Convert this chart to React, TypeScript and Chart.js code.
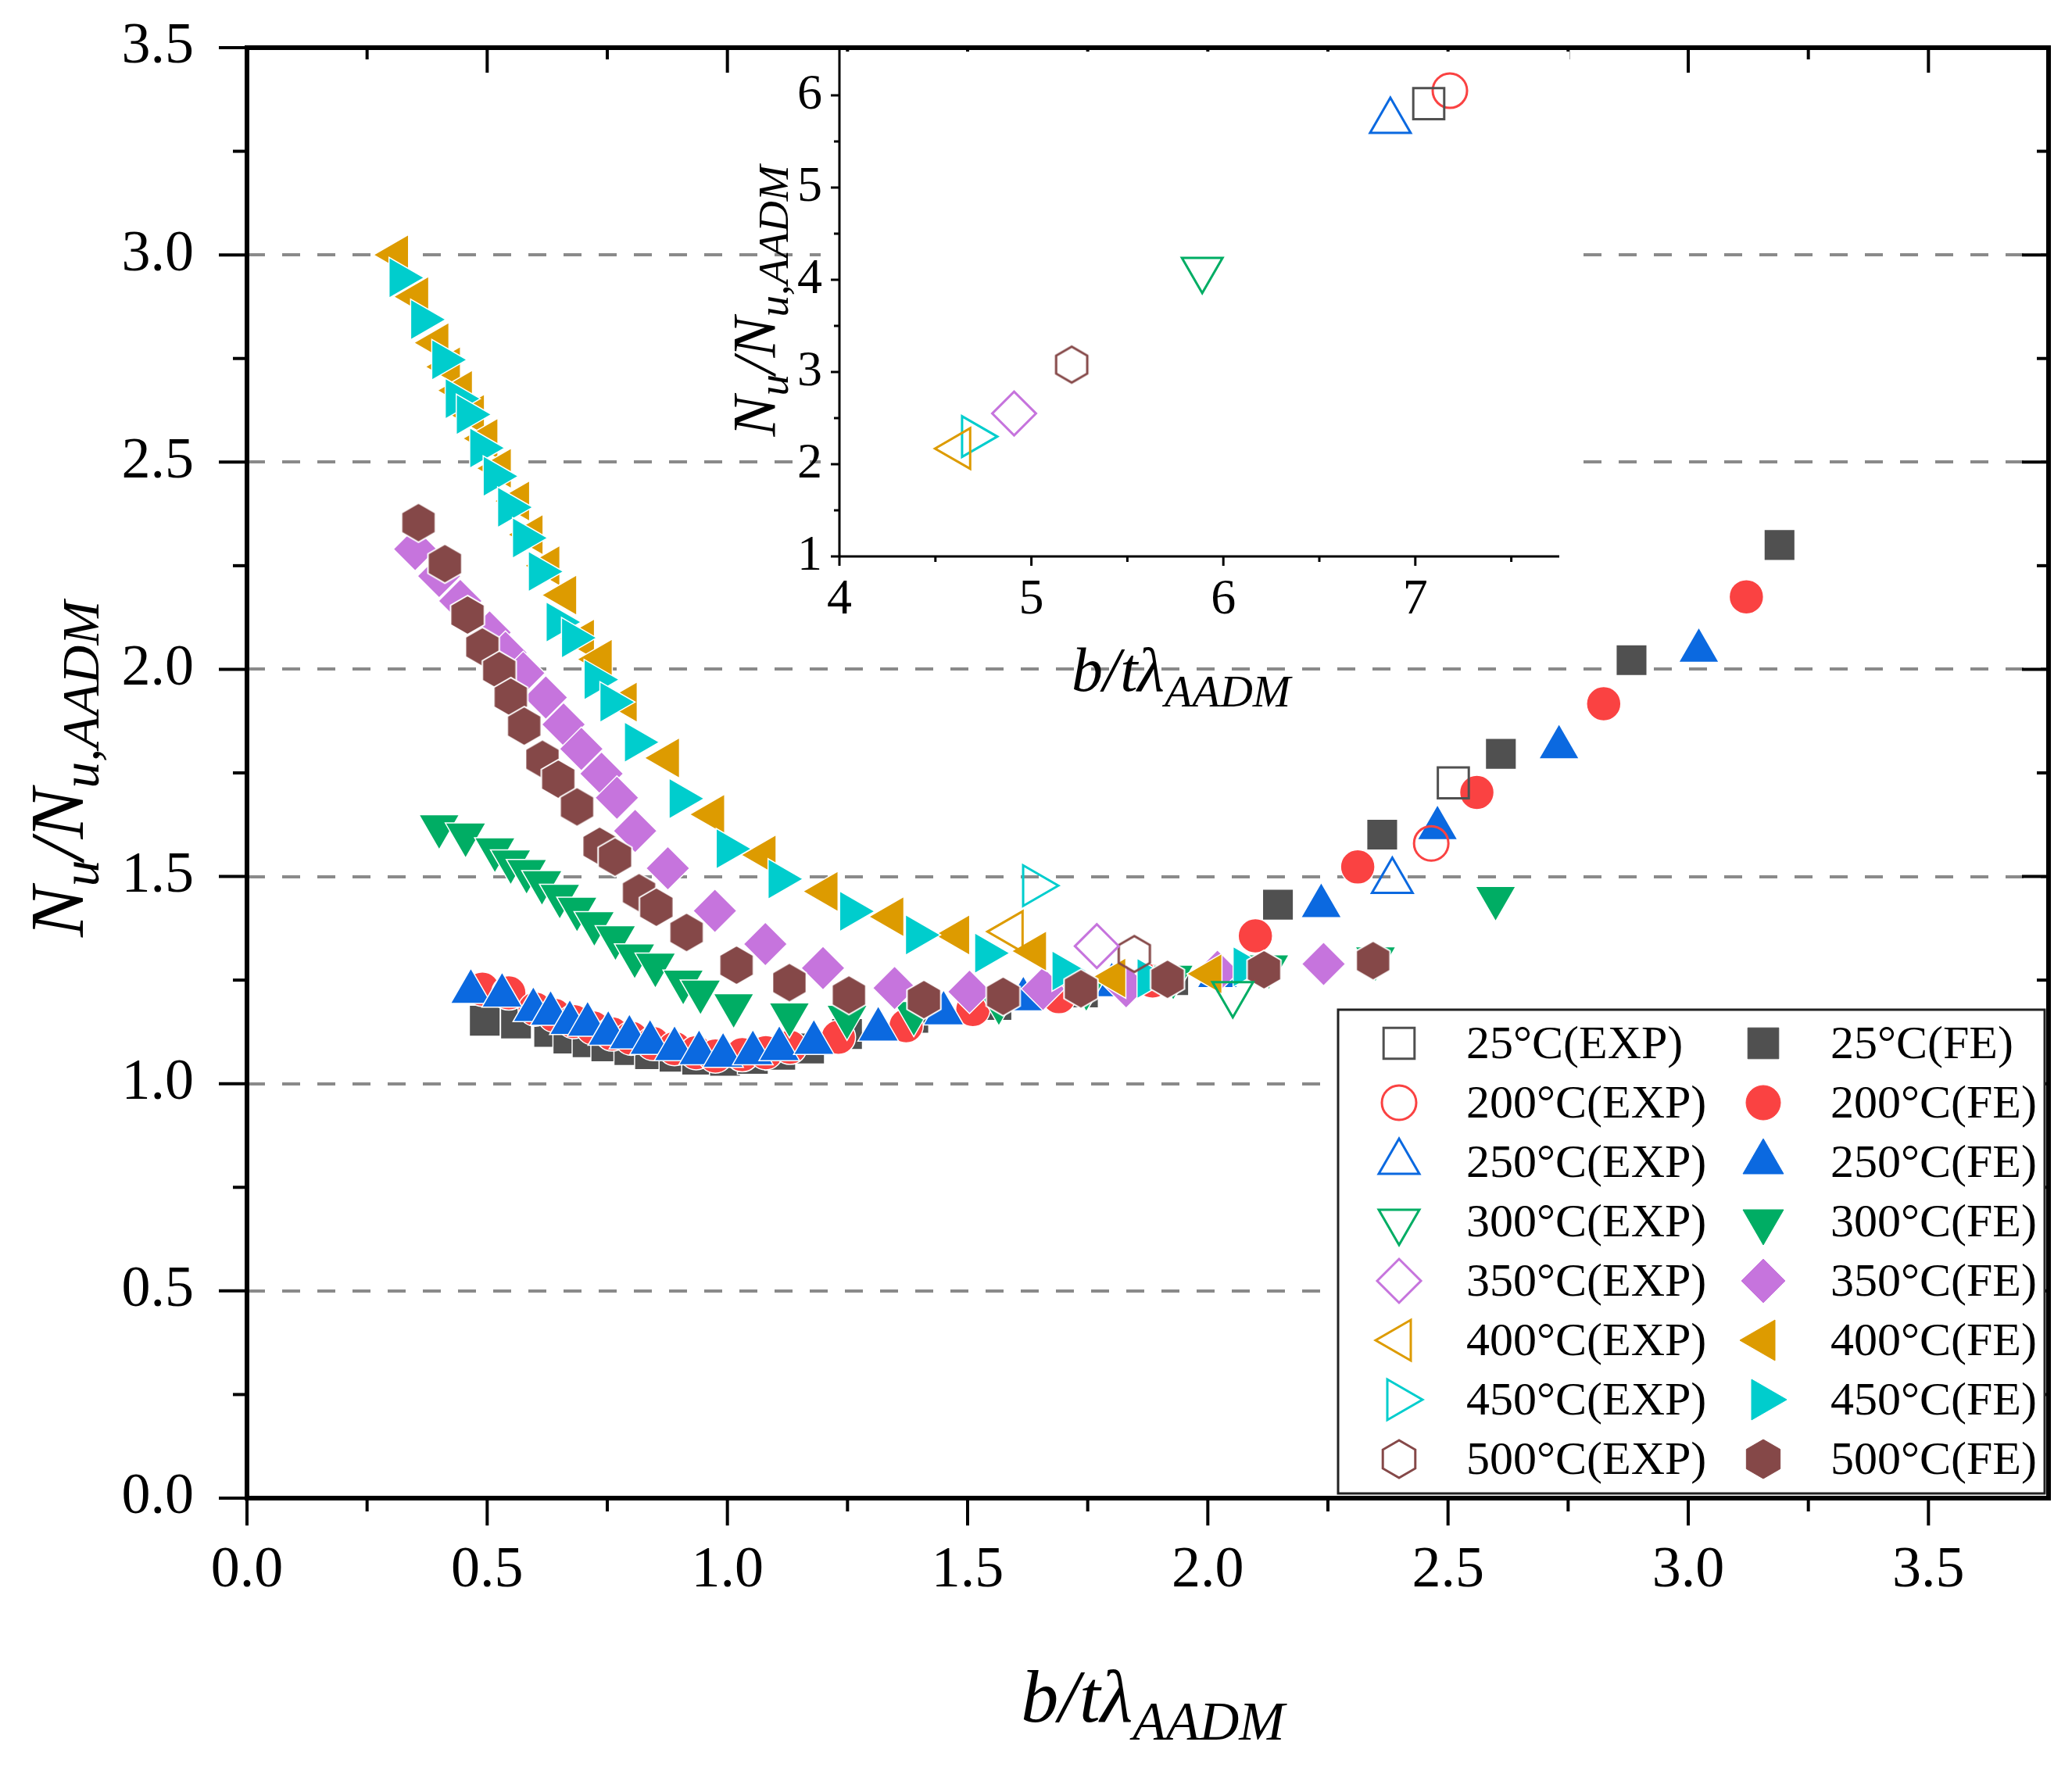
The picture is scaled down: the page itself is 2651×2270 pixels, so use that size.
import React, { useEffect, useRef } from "react";
import { Chart, registerables } from "chart.js";
import { drawPoint } from "chart.js/helpers";

Chart.register(...registerables);

const FONT = "'Liberation Serif', 'Times New Roman', serif";

const temps = ["25", "200", "250", "300", "350", "400", "450", "500"];

// FE curves (main plot)
const fe25X = [0.495, 0.56, 0.629, 0.669, 0.709, 0.748, 0.796, 0.839, 0.89, 0.937, 0.995, 1.053, 1.11, 1.17, 1.249, 1.387, 1.56, 1.74, 1.928, 2.146, 2.363, 2.61, 2.882, 3.19];
const fe25Y = [1.152, 1.145, 1.125, 1.109, 1.1, 1.09, 1.081, 1.071, 1.065, 1.058, 1.055, 1.06, 1.07, 1.085, 1.12, 1.159, 1.19, 1.22, 1.25, 1.432, 1.601, 1.796, 2.022, 2.3];
const fe200X = [0.49, 0.545, 0.6, 0.64, 0.68, 0.72, 0.76, 0.8, 0.845, 0.89, 0.935, 0.975, 1.031, 1.08, 1.13, 1.231, 1.372, 1.511, 1.69, 1.885, 2.099, 2.312, 2.56, 2.824, 3.121];
const fe200Y = [1.228, 1.219, 1.18, 1.165, 1.15, 1.135, 1.12, 1.11, 1.097, 1.085, 1.075, 1.067, 1.07, 1.075, 1.088, 1.112, 1.14, 1.179, 1.21, 1.248, 1.357, 1.523, 1.703, 1.917, 2.175];
const fe250X = [0.466, 0.531, 0.596, 0.632, 0.672, 0.709, 0.752, 0.796, 0.839, 0.89, 0.941, 0.991, 1.053, 1.108, 1.18, 1.314, 1.45, 1.616, 1.8, 2.02, 2.236, 2.478, 2.731, 3.022];
const fe250Y = [1.222, 1.213, 1.178, 1.169, 1.147, 1.143, 1.121, 1.112, 1.099, 1.084, 1.074, 1.068, 1.074, 1.084, 1.099, 1.131, 1.17, 1.204, 1.238, 1.26, 1.429, 1.617, 1.812, 2.045];
const fe300X = [0.4, 0.455, 0.516, 0.549, 0.582, 0.614, 0.651, 0.687, 0.723, 0.767, 0.807, 0.85, 0.908, 0.944, 1.013, 1.129, 1.249, 1.388, 1.565, 1.747, 1.928, 2.127, 2.349, 2.599];
const fe300Y = [1.621, 1.601, 1.565, 1.536, 1.513, 1.486, 1.453, 1.422, 1.387, 1.353, 1.309, 1.287, 1.246, 1.222, 1.189, 1.167, 1.161, 1.17, 1.196, 1.23, 1.258, 1.283, 1.302, 1.448];
const fe350X = [0.35, 0.4, 0.444, 0.505, 0.538, 0.575, 0.622, 0.659, 0.696, 0.738, 0.77, 0.808, 0.876, 0.974, 1.079, 1.199, 1.348, 1.504, 1.657, 1.83, 2.02, 2.241];
const fe350Y = [2.29, 2.225, 2.165, 2.089, 2.04, 1.991, 1.932, 1.867, 1.808, 1.748, 1.69, 1.61, 1.52, 1.417, 1.337, 1.279, 1.231, 1.222, 1.229, 1.235, 1.27, 1.289];
const fe400X = [0.312, 0.354, 0.396, 0.42, 0.445, 0.47, 0.498, 0.526, 0.564, 0.592, 0.627, 0.662, 0.699, 0.736, 0.788, 0.876, 0.97, 1.077, 1.206, 1.343, 1.48, 1.64, 1.805, 2.005];
const fe400Y = [3.0, 2.899, 2.788, 2.73, 2.673, 2.615, 2.557, 2.485, 2.406, 2.325, 2.25, 2.179, 2.073, 2.024, 1.921, 1.786, 1.65, 1.552, 1.464, 1.403, 1.359, 1.32, 1.255, 1.265];
const fe450X = [0.32, 0.365, 0.409, 0.437, 0.46, 0.488, 0.516, 0.546, 0.577, 0.61, 0.647, 0.679, 0.726, 0.759, 0.81, 0.903, 1.001, 1.109, 1.258, 1.395, 1.539, 1.7, 1.877, 2.077];
const fe450Y = [2.945, 2.844, 2.747, 2.653, 2.615, 2.534, 2.466, 2.391, 2.317, 2.236, 2.114, 2.076, 1.975, 1.921, 1.824, 1.688, 1.567, 1.494, 1.416, 1.359, 1.315, 1.272, 1.254, 1.282];
const fe500X = [0.357, 0.412, 0.459, 0.49, 0.525, 0.549, 0.577, 0.615, 0.648, 0.687, 0.734, 0.766, 0.816, 0.852, 0.915, 1.019, 1.129, 1.253, 1.409, 1.574, 1.736, 1.916, 2.117, 2.344];
const fe500Y = [2.354, 2.255, 2.131, 2.054, 1.997, 1.933, 1.863, 1.783, 1.735, 1.668, 1.573, 1.547, 1.461, 1.426, 1.365, 1.286, 1.244, 1.214, 1.203, 1.211, 1.229, 1.252, 1.275, 1.297];

// test points, one per temperature (main plot and inset)
const expMainX = [2.511, 2.465, 2.384, 2.052, 1.769, 1.59, 1.64, 1.847];
const expMainY = [1.726, 1.58, 1.489, 1.217, 1.332, 1.367, 1.478, 1.313];
const expInsetX = [7.07, 7.18, 6.87, 5.89, 4.91, 4.62, 4.7, 5.21];
const expInsetY = [5.91, 6.05, 5.72, 4.11, 2.55, 2.17, 2.3, 3.08];

const mainXTicks = [0, 0.5, 1, 1.5, 2, 2.5, 3, 3.5];
const mainYTicks = [0, 0.5, 1, 1.5, 2, 2.5, 3, 3.5];
const insetXTicks = [4, 5, 6, 7];
const insetYTicks = [1, 2, 3, 4, 5, 6];

const feX = [fe25X, fe200X, fe250X, fe300X, fe350X, fe400X, fe450X, fe500X];
const feY = [fe25Y, fe200Y, fe250Y, fe300Y, fe350Y, fe400Y, fe450Y, fe500Y];

const colors = ["#505050", "#fa4242", "#0b69e0", "#00ad64", "#c674dd", "#dd9b00", "#00cdcd", "#854848"];
const shapes = [
  { style: "rect", rot: 0, r: 28 },
  { style: "circle", rot: 0, r: 22 },
  { style: "triangle", rot: 0, r: 30 },
  { style: "triangle", rot: 180, r: 30 },
  { style: "rectRot", rot: 0, r: 28 },
  { style: "triangle", rot: 270, r: 30 },
  { style: "triangle", rot: 90, r: 30 },
  { style: "hex", rot: 0, r: 25 },
];

function makeHex(r: number, fill: string | null, stroke: string, lw: number) {
  const size = Math.ceil(2 * r + 2 * lw + 2);
  const c = document.createElement("canvas");
  c.width = size;
  c.height = size;
  const g = c.getContext("2d")!;
  g.beginPath();
  for (let k = 0; k < 6; k++) {
    const a = Math.PI / 2 + (k * Math.PI) / 3;
    const px = size / 2 + r * Math.cos(a);
    const py = size / 2 - r * Math.sin(a);
    if (k === 0) g.moveTo(px, py);
    else g.lineTo(px, py);
  }
  g.closePath();
  if (fill) {
    g.fillStyle = fill;
    g.fill();
  }
  g.lineWidth = lw;
  g.strokeStyle = stroke;
  g.stroke();
  return c;
}

function minorOf(majors: number[], max: number) {
  const step = majors[1] - majors[0];
  return majors.map((v) => v + step / 2).filter((v) => v < max - 1e-9);
}

// italic text with subscripts, centred on (x, y) baseline
function richTitle(ctx: CanvasRenderingContext2D, parts: [string, boolean][], x: number, y: number, rotate: boolean, big: number, small: number, drop: number) {
  ctx.save();
  ctx.translate(x, y);
  if (rotate) ctx.rotate(-Math.PI / 2);
  ctx.fillStyle = "#000";
  ctx.textAlign = "left";
  ctx.textBaseline = "alphabetic";
  const widths = parts.map(([t, sub]) => {
    ctx.font = `italic ${sub ? small : big}px ${FONT}`;
    return ctx.measureText(t).width;
  });
  let cx = -widths.reduce((a, b) => a + b, 0) / 2;
  parts.forEach(([t, sub], i) => {
    ctx.font = `italic ${sub ? small : big}px ${FONT}`;
    ctx.fillText(t, cx, sub ? drop : 0);
    cx += widths[i];
  });
  ctx.restore();
}

const noPad = (s: any) => {
  s.paddingTop = 0;
  s.paddingBottom = 0;
  s.paddingLeft = 0;
  s.paddingRight = 0;
};

const App: React.FC = () => {
  const mainRef = useRef<HTMLCanvasElement | null>(null);
  const insetRef = useRef<HTMLCanvasElement | null>(null);

  useEffect(() => {
    if (!mainRef.current || !insetRef.current) return;
    const mctx = mainRef.current.getContext("2d");
    const ictx = insetRef.current.getContext("2d");
    if (!mctx || !ictx) return;

    const hexFill = makeHex(25, colors[7], "#ffffff", 2);
    const hexOpen = makeHex(23, null, colors[7], 3);
    const hexLegFill = makeHex(25, colors[7], colors[7], 1);
    const hexLegOpen = makeHex(24, null, colors[7], 3);

    const expSet = (i: number, xs: number[], ys: number[]) => ({
      label: `${temps[i]}°C(EXP)`,
      data: [{ x: xs[i], y: ys[i] }],
      pointStyle: i === 7 ? hexOpen : shapes[i].style,
      rotation: shapes[i].rot,
      pointRadius: shapes[i].r,
      backgroundColor: "rgba(255,255,255,0)",
      borderColor: colors[i],
      borderWidth: 3,
      order: i,
    });

    const mainSets: any[] = [];
    temps.forEach((t, i) => {
      mainSets.push(expSet(i, expMainX, expMainY));
      mainSets.push({
        label: `${t}°C(FE)`,
        data: feX[i].map((x, k) => ({ x, y: feY[i][k] })),
        pointStyle: i === 7 ? hexFill : shapes[i].style,
        rotation: shapes[i].rot,
        pointRadius: shapes[i].r,
        backgroundColor: colors[i],
        borderColor: "#ffffff",
        borderWidth: 1.5,
        order: 100 - i,
      });
    });

    const mainDeco = {
      id: "mainDeco",
      afterDraw(chart: any) {
        const { ctx, chartArea: a } = chart;
        const sx = chart.scales.x;
        const sy = chart.scales.y;
        ctx.save();
        ctx.setLineDash([]);
        ctx.strokeStyle = "#000";
        ctx.lineWidth = 4;
        const seg = (x1: number, y1: number, x2: number, y2: number) => {
          ctx.beginPath();
          ctx.moveTo(x1, y1);
          ctx.lineTo(x2, y2);
          ctx.stroke();
        };
        const xMin = minorOf(mainXTicks, 3.75);
        const yMin = minorOf(mainYTicks, 3.5);
        mainXTicks.forEach((v) => {
          const p = sx.getPixelForValue(v);
          seg(p, a.bottom, p, a.bottom + 35);
          seg(p, a.top, p, a.top + 32);
        });
        xMin.forEach((v) => {
          const p = sx.getPixelForValue(v);
          seg(p, a.bottom, p, a.bottom + 17);
          seg(p, a.top, p, a.top + 15);
        });
        mainYTicks.forEach((v) => {
          const p = sy.getPixelForValue(v);
          seg(a.left - 36, p, a.left, p);
          seg(a.right - 34, p, a.right, p);
        });
        yMin.forEach((v) => {
          const p = sy.getPixelForValue(v);
          seg(a.left - 18, p, a.left, p);
          seg(a.right - 15, p, a.right, p);
        });

        // legend
        const lx = 1712, ly = 1292, lw = 904, lh = 619;
        ctx.fillStyle = "#ffffff";
        ctx.fillRect(lx, ly, lw, lh);
        ctx.lineWidth = 3;
        ctx.strokeStyle = "#222";
        ctx.strokeRect(lx, ly, lw, lh);
        ctx.font = `60px ${FONT}`;
        ctx.textBaseline = "middle";
        ctx.textAlign = "left";
        temps.forEach((t, i) => {
          const y = 1335 + i * 76;
          const shape = shapes[i];
          if (i === 7) {
            ctx.drawImage(hexLegOpen, 1790 - hexLegOpen.width / 2, y - hexLegOpen.height / 2);
            ctx.drawImage(hexLegFill, 2256 - hexLegFill.width / 2, y - hexLegFill.height / 2);
          } else {
            ctx.fillStyle = "rgba(255,255,255,0)";
            ctx.strokeStyle = colors[i];
            ctx.lineWidth = 3;
            drawPoint(ctx, { pointStyle: shape.style, rotation: shape.rot, radius: shape.r, borderWidth: 3 } as any, 1790, y);
            ctx.fillStyle = colors[i];
            ctx.strokeStyle = colors[i];
            ctx.lineWidth = 1;
            drawPoint(ctx, { pointStyle: shape.style, rotation: shape.rot, radius: shape.r, borderWidth: 1 } as any, 2256, y);
          }
          ctx.fillStyle = "#000";
          ctx.fillText(`${t}°C(EXP)`, 1876, y + 3);
          ctx.fillText(`${t}°C(FE)`, 2342, y + 3);
        });

        // frame
        ctx.strokeStyle = "#000";
        ctx.lineWidth = 6;
        ctx.strokeRect(a.left, a.top, a.right - a.left, a.bottom - a.top);

        richTitle(ctx, [["N", false], ["u", true], ["/N", false], ["u,AADM", true]], 106, 984, true, 97, 68, 20);
        richTitle(ctx, [["b/tλ", false], ["AADM", true]], 1475, 2203, false, 96, 70, 23);
        ctx.restore();
      },
    };

    const main = new Chart(mctx, {
      type: "scatter",
      data: { datasets: mainSets },
      options: {
        animation: false,
        responsive: false,
        devicePixelRatio: 1,
        events: [],
        layout: { autoPadding: false, padding: { top: 61, right: 30, left: 0, bottom: 0 } },
        plugins: { legend: { display: false }, tooltip: { enabled: false } },
        scales: {
          x: {
            type: "linear",
            min: 0,
            max: 3.75,
            afterBuildTicks: (s: any) => {
              s.ticks = mainXTicks.map((v) => ({ value: v }));
            },
            afterFit: (s: any) => {
              s.height = 353;
              noPad(s);
            },
            ticks: {
              padding: 49,
              color: "#000",
              font: { family: FONT, size: 74 },
              maxRotation: 0,
              autoSkip: false,
              callback: (v: any) => Number(v).toFixed(1),
            },
            grid: { display: false, drawTicks: false },
            border: { display: false },
          },
          y: {
            type: "linear",
            min: 0,
            max: 3.5,
            afterBuildTicks: (s: any) => {
              s.ticks = mainYTicks.map((v) => ({ value: v }));
            },
            afterFit: (s: any) => {
              s.width = 316;
              noPad(s);
            },
            ticks: {
              padding: 68,
              color: "#000",
              font: { family: FONT, size: 74 },
              autoSkip: false,
              callback: (v: any) => Number(v).toFixed(1),
            },
            grid: {
              drawTicks: false,
              lineWidth: 4,
              color: (c: any) => (c.tick && c.tick.value > 0 && c.tick.value < 3.5 ? "#8a8a8a" : "rgba(0,0,0,0)"),
            },
            border: { display: false, dash: [23, 22] },
          },
        },
      },
      plugins: [mainDeco],
    } as any);

    // inset chart, canvas placed at left 900, top 0
    const insetSets = temps.map((_, i) => expSet(i, expInsetX, expInsetY));

    const insetDeco = {
      id: "insetDeco",
      beforeDraw(chart: any) {
        const { ctx } = chart;
        ctx.save();
        ctx.fillStyle = "#ffffff";
        ctx.fillRect(150, 66, 958, 652);
        ctx.restore();
      },
      afterDraw(chart: any) {
        const { ctx, chartArea: a } = chart;
        const sx = chart.scales.x;
        const sy = chart.scales.y;
        ctx.save();
        ctx.setLineDash([]);
        ctx.strokeStyle = "#000";
        ctx.lineWidth = 3;
        const seg = (x1: number, y1: number, x2: number, y2: number) => {
          ctx.beginPath();
          ctx.moveTo(x1, y1);
          ctx.lineTo(x2, y2);
          ctx.stroke();
        };
        seg(a.left, a.top, a.left, a.bottom);
        seg(a.left, a.bottom, a.right, a.bottom);
        insetXTicks.forEach((v) => {
          const p = sx.getPixelForValue(v);
          seg(p, a.bottom, p, a.bottom + 12);
        });
        minorOf(insetXTicks, 7.75).forEach((v) => {
          const p = sx.getPixelForValue(v);
          seg(p, a.bottom, p, a.bottom + 7);
        });
        insetYTicks.forEach((v) => {
          const p = sy.getPixelForValue(v);
          seg(a.left - 11, p, a.left, p);
        });
        minorOf(insetYTicks, 6.5).forEach((v) => {
          const p = sy.getPixelForValue(v);
          seg(a.left - 7, p, a.left, p);
        });
        richTitle(ctx, [["N", false], ["u", true], ["/N", false], ["u,AADM", true]], 91, 385, true, 78, 55, 17);
        richTitle(ctx, [["b/tλ", false], ["AADM", true]], 611, 884, false, 80, 58, 20);
        ctx.restore();
      },
    };

    const inset = new Chart(ictx, {
      type: "scatter",
      data: { datasets: insetSets },
      options: {
        animation: false,
        responsive: false,
        devicePixelRatio: 1,
        events: [],
        layout: { autoPadding: false, padding: { top: 63, right: 55, left: 0, bottom: 0 } },
        plugins: { legend: { display: false }, tooltip: { enabled: false } },
        scales: {
          x: {
            type: "linear",
            min: 4,
            max: 7.75,
            afterBuildTicks: (s: any) => {
              s.ticks = insetXTicks.map((v) => ({ value: v }));
            },
            afterFit: (s: any) => {
              s.height = 248;
              noPad(s);
            },
            ticks: {
              padding: 18,
              color: "#000",
              font: { family: FONT, size: 64 },
              maxRotation: 0,
              autoSkip: false,
              callback: (v: any) => String(v),
            },
            grid: { display: false, drawTicks: false },
            border: { display: false },
          },
          y: {
            type: "linear",
            min: 1,
            max: 6.5,
            afterBuildTicks: (s: any) => {
              s.ticks = insetYTicks.map((v) => ({ value: v }));
            },
            afterFit: (s: any) => {
              s.width = 174;
              noPad(s);
            },
            ticks: {
              padding: 22,
              color: "#000",
              font: { family: FONT, size: 64 },
              autoSkip: false,
              callback: (v: any) => String(v),
            },
            grid: { display: false, drawTicks: false },
            border: { display: false },
          },
        },
      },
      plugins: [insetDeco],
    } as any);

    return () => {
      main.destroy();
      inset.destroy();
    };
  }, []);

  return (
    <div style={{ position: "absolute", left: 0, top: 0, width: 2651, height: 2270, background: "#ffffff" }}>
      <canvas ref={mainRef} width={2651} height={2270} style={{ position: "absolute", left: 0, top: 0, width: 2651, height: 2270 }} />
      <canvas ref={insetRef} width={1150} height={960} style={{ position: "absolute", left: 900, top: 0, width: 1150, height: 960 }} />
    </div>
  );
};

export default App;
